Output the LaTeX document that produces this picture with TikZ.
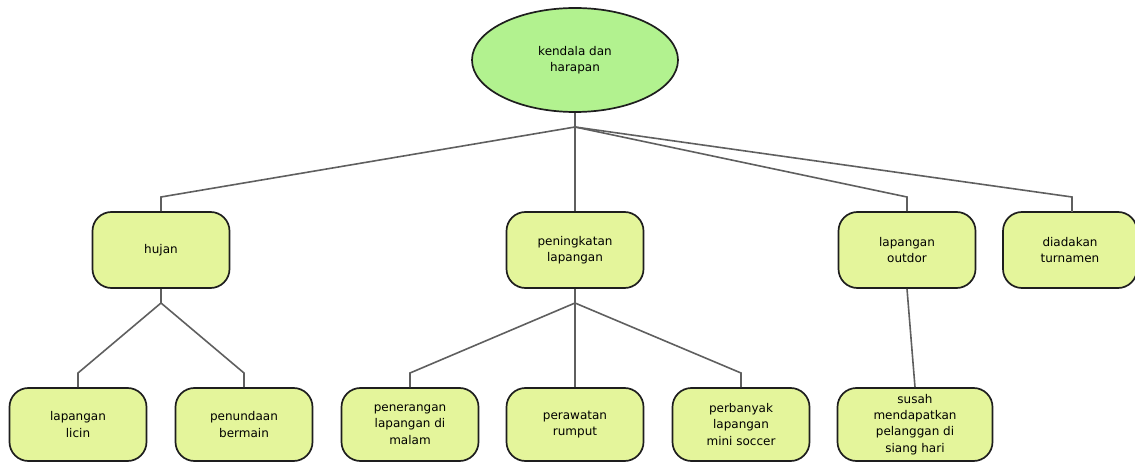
\documentclass[tikz,border=0pt]{standalone}
\usepackage{fontspec}
\setmainfont{DejaVu Sans}
\usetikzlibrary{shapes.geometric}
\definecolor{boxfill}{RGB}{228,245,155}
\definecolor{ellfill}{RGB}{178,242,143}
\definecolor{edgecol}{RGB}{30,30,30}
\definecolor{linecol}{RGB}{95,95,95}
\tikzset{
  topic/.style={draw=edgecol, line width=1.7pt, fill=boxfill, rounded corners=19pt,
    minimum width=137pt, minimum height=76pt, align=center, inner sep=1pt,
    font=\fontsize{12}{16.3}\selectfont},
  leaf/.style={topic, minimum height=73pt},
  rootnode/.style={ellipse, draw=edgecol, line width=1.7pt, fill=ellfill,
    minimum width=206pt, minimum height=104pt, align=center,
    font=\fontsize{12}{16.3}\selectfont},
  conn/.style={draw=linecol, line width=1.6pt}
}
\begin{document}
\begin{tikzpicture}[x=1pt,y=-1pt]
\useasboundingbox (0,0) rectangle (1135,462);
\node[rootnode] (root) at (575,60) {kendala dan\\harapan};
\node[topic] (hujan) at (161,250) {hujan};
\node[topic] (pen) at (575,250) {peningkatan\\lapangan};
\node[topic] (outdor) at (907,250) {lapangan\\outdor};
\node[topic, minimum width=134pt] (turn) at (1070,250) {diadakan\\turnamen};
\node[leaf] (licin) at (78,424.5) {lapangan\\licin};
\node[leaf] (tunda) at (244,424.5) {penundaan\\bermain};
\node[leaf] (terang) at (410,424.5) {penerangan\\lapangan di\\malam};
\node[leaf] (rumput) at (575,424.5) {perawatan\\rumput};
\node[leaf] (mini) at (741,424.5) {perbanyak\\lapangan\\mini soccer};
\node[leaf, minimum width=155pt] (susah) at (915,424.5) {susah\\mendapatkan\\pelanggan di\\siang hari};
\coordinate (j0) at (575,127);
\coordinate (j1) at (161,303);
\coordinate (j2) at (575,303);
\draw[conn] (root.south) -- (j0);
\draw[conn] (j0) -- (161,197) -- (hujan.north);
\draw[conn] (j0) -- (pen.north);
\draw[conn] (j0) -- (907,197) -- (outdor.north);
\draw[conn] (j0) -- (1072,197) -- (1072,212);
\draw[conn] (hujan.south) -- (j1);
\draw[conn] (j1) -- (78,373) -- (licin.north);
\draw[conn] (j1) -- (244,373) -- (tunda.north);
\draw[conn] (pen.south) -- (j2);
\draw[conn] (j2) -- (410,373) -- (terang.north);
\draw[conn] (j2) -- (rumput.north);
\draw[conn] (j2) -- (741,373) -- (mini.north);
\draw[conn] (outdor.south) -- (susah.north);
\end{tikzpicture}
\end{document}
